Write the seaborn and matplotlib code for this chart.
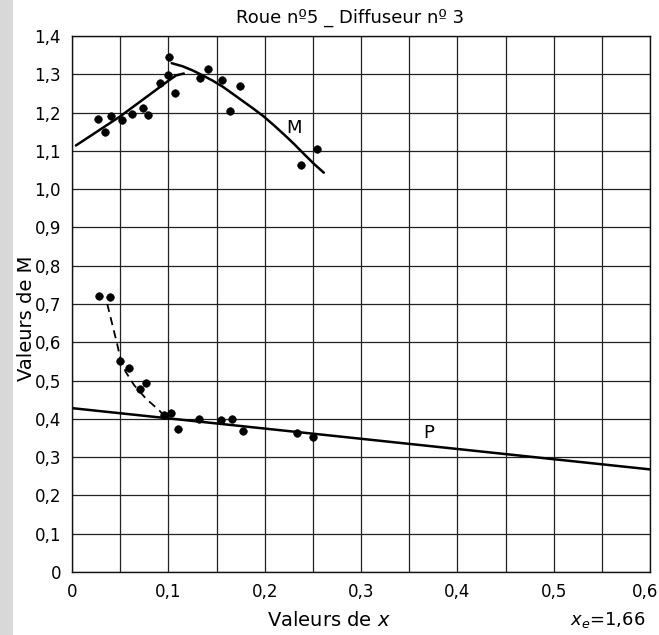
import matplotlib
matplotlib.use("Agg")
import matplotlib.pyplot as plt
import matplotlib.transforms as mtransforms
import seaborn as sns
import pandas as pd
from matplotlib.patches import Rectangle

# ---- data ----
m_x = [0.027, 0.034, 0.040, 0.052, 0.062, 0.074, 0.079, 0.091, 0.100, 0.101,
       0.107, 0.133, 0.141, 0.156, 0.164, 0.174, 0.238, 0.254]
m_y = [1.184, 1.149, 1.190, 1.181, 1.196, 1.212, 1.193, 1.277, 1.299, 1.345,
       1.252, 1.291, 1.313, 1.284, 1.205, 1.270, 1.064, 1.105]

p_x = [0.028, 0.039, 0.050, 0.059, 0.071, 0.077, 0.095, 0.103, 0.110, 0.132,
       0.155, 0.166, 0.177, 0.234, 0.250]
p_y = [0.722, 0.719, 0.550, 0.532, 0.479, 0.493, 0.409, 0.415, 0.374, 0.400,
       0.396, 0.399, 0.367, 0.362, 0.353]

# M curve, rising branch
m1_x = [0.004, 0.050, 0.100, 0.108, 0.116]
m1_y = [1.114, 1.190, 1.283, 1.297, 1.302]
# M curve, falling branch
m2_x = [0.1035, 0.1147, 0.1253, 0.1358, 0.1463, 0.1568, 0.1674, 0.1779,
        0.1884, 0.1989, 0.2095, 0.2200, 0.2305, 0.2411, 0.2516, 0.2614]
m2_y = [1.329, 1.321, 1.310, 1.297, 1.283, 1.267, 1.248, 1.229,
        1.210, 1.190, 1.167, 1.143, 1.118, 1.091, 1.065, 1.043]
# P straight line
pl_x = [0.0, 0.6]
pl_y = [0.428, 0.268]
# P dashed curve
pd_x = [0.0366, 0.0418, 0.047, 0.0505, 0.0557, 0.0645, 0.0767, 0.0906, 0.0969]
pd_y = [0.700, 0.647, 0.594, 0.554, 0.523, 0.488, 0.453, 0.422, 0.404]

x_ticks = [0.0, 0.05, 0.1, 0.15, 0.2, 0.25, 0.3, 0.35, 0.4, 0.45, 0.5, 0.55, 0.6]
x_labels = ["0", "", "0,1", "", "0,2", "", "0,3", "", "0,4", "", "0,5", "", "0,6"]
y_ticks = [0.0, 0.1, 0.2, 0.3, 0.4, 0.5, 0.6, 0.7, 0.8, 0.9, 1.0, 1.1, 1.2, 1.3, 1.4]
y_labels = ["0", "0,1", "0,2", "0,3", "0,4", "0,5", "0,6", "0,7", "0,8", "0,9",
            "1,0", "1,1", "1,2", "1,3", "1,4"]

title = "Roue nº5 _ Diffuseur nº 3"
xlabel = "Valeurs de $x$"
ylabel = "Valeurs de M"
xe_note = "$x_e$=1,66"

# ---- drawing ----
sns.set_theme(style="white")
plt.rcParams["font.family"] = ["DejaVu Sans"]
plt.rcParams["text.color"] = "black"

fig = plt.figure(figsize=(6.59, 6.35), dpi=100)
fig.patch.set_facecolor("white")
ax = fig.add_axes([72/659, 63/635, 578/659, 536/635])

# scan strip on the left edge
fig.patches.append(Rectangle((0, 0), 13/659, 1, transform=fig.transFigure,
                             facecolor="#d8d8d8", edgecolor="none", zorder=0))

ax.set_xlim(0, 0.6)
ax.set_ylim(0, 1.4)
ax.set_xticks(x_ticks)
ax.set_xticklabels(x_labels, fontsize=12)
ax.set_yticks(y_ticks)
ax.set_yticklabels(y_labels, fontsize=12)
ax.tick_params(axis="both", length=0, pad=8, colors="black")
ax.grid(True, color="#222222", linewidth=0.9)
ax.set_axisbelow(True)
for s in ax.spines.values():
    s.set_color("#111111")
    s.set_linewidth(1.0)

# keep the last x tick label inside the figure
last = ax.get_xticklabels()[-1]
last.set_transform(last.get_transform() +
                   mtransforms.ScaledTranslation(-5/100, 0, fig.dpi_scale_trans))

df_m1 = pd.DataFrame({"x": m1_x, "y": m1_y})
df_m2 = pd.DataFrame({"x": m2_x, "y": m2_y})
df_pl = pd.DataFrame({"x": pl_x, "y": pl_y})
df_pd = pd.DataFrame({"x": pd_x, "y": pd_y})
for d in (df_m1, df_m2, df_pl):
    sns.lineplot(data=d, x="x", y="y", ax=ax, color="black", linewidth=1.8,
                 sort=False, estimator=None)
sns.lineplot(data=df_pd, x="x", y="y", ax=ax, color="black", linewidth=1.3,
             sort=False, estimator=None, linestyle=(0, (4.5, 3)))

sns.scatterplot(x=m_x, y=m_y, ax=ax, color="black", s=30, edgecolor="black", zorder=5)
sns.scatterplot(x=p_x, y=p_y, ax=ax, color="black", s=30, edgecolor="black", zorder=5)

ax.text(0.230, 1.160, "M", fontsize=13, ha="center", va="center", color="black")
ax.text(0.370, 0.362, "P", fontsize=13, ha="center", va="center", color="black")

ax.set_xlabel("")
ax.set_ylabel("")
fig.text(350/659, 1 - 18/635, title, fontsize=13, ha="center", va="center", color="black")
fig.text(329/659, 1 - 620/635, xlabel, fontsize=14, ha="center", va="center", color="black")
fig.text(608/659, 1 - 620/635, xe_note, fontsize=13, ha="center", va="center", color="black")
fig.text(27/659, 1 - 318/635, ylabel, fontsize=14, ha="center", va="center",
         rotation=90, color="black")

fig.savefig("out.png", dpi=100)
